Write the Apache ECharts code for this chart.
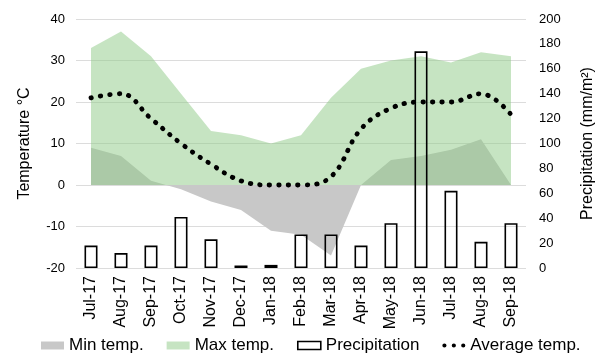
<!DOCTYPE html>
<html>
<head>
<meta charset="utf-8">
<script src="https://cdn.jsdelivr.net/npm/echarts@6/dist/echarts.min.js"></script>
<style>
html,body{margin:0;padding:0;background:#fff;}
#chart{width:604px;height:361px;}
</style>
</head>
<body>
<div id="chart"></div>
<script>
var months = ['Jul-17','Aug-17','Sep-17','Oct-17','Nov-17','Dec-17','Jan-18','Feb-18','Mar-18','Apr-18','May-18','Jun-18','Jul-18','Aug-18','Sep-18'];
var minTemp = [9, 7, 1, -1, -4, -6, -11, -12, -17, 0, 6, 7, 8.5, 11, 0];
var maxTemp = [33, 37, 31, 22, 13, 12, 10, 12, 21, 28, 30, 31, 29.5, 32, 31];
var avgTemp = [21, 22, 16, 10, 5, 1, 0, 0, 2, 13.5, 18.5, 20, 20, 22, 17];
var precipitation = [18, 12, 18, 41, 23, 2, 2.5, 27, 27, 18, 36, 174, 62, 21, 36];
var tempTicks = {min: -20, max: 40, interval: 10};
var precipTicks = {min: 0, max: 200, interval: 20};

var font = 'Liberation Sans, Arial, sans-serif';
var chart = echarts.init(document.getElementById('chart'), null, {renderer: 'canvas'});
var dotsIcon = 'path://M0,2A2,2 0 1 1 4,2A2,2 0 1 1 0,2Z M9,2A2,2 0 1 1 13,2A2,2 0 1 1 9,2Z M18,2A2,2 0 1 1 22,2A2,2 0 1 1 18,2Z';

chart.setOption({
  animation: false,
  backgroundColor: '#fff',
  textStyle: {fontFamily: font},
  grid: {left: 76, right: 76, top: 19, bottom: 93},
  legend: {
    bottom: 2,
    left: 36,
    itemWidth: 23,
    itemHeight: 8,
    itemGap: 23,
    textStyle: {fontSize: 17, color: '#000', fontFamily: font},
    data: [
      {name: 'Min temp.', icon: 'rect', itemStyle: {color: '#c8c8c8', borderWidth: 0}},
      {name: 'Max temp.', icon: 'rect', itemStyle: {color: '#c6e4c2', borderWidth: 0}},
      {name: 'Precipitation', icon: 'rect', itemStyle: {color: 'rgba(255,255,255,0)', borderColor: '#000', borderWidth: 1.6}},
      {name: 'Average temp.', icon: dotsIcon, itemStyle: {color: '#000', borderWidth: 0}}
    ]
  },
  xAxis: {
    type: 'category',
    data: months,
    boundaryGap: true,
    axisLine: {show: false},
    axisTick: {show: false},
    axisLabel: {rotate: 90, interval: 0, fontSize: 16, color: '#000', margin: 8, fontFamily: font}
  },
  yAxis: [
    {
      type: 'value',
      min: tempTicks.min, max: tempTicks.max, interval: tempTicks.interval,
      name: 'Temperature °C',
      nameLocation: 'middle',
      nameGap: 43,
      nameTextStyle: {fontSize: 16, color: '#000', fontFamily: font},
      axisLine: {show: false},
      axisTick: {show: false},
      axisLabel: {fontSize: 13, color: '#000', margin: 11, fontFamily: font},
      splitLine: {show: true, lineStyle: {color: '#dcdcdc', width: 1}}
    },
    {
      type: 'value',
      position: 'right',
      min: precipTicks.min, max: precipTicks.max, interval: precipTicks.interval,
      name: 'Precipitation (mm/m²)',
      nameLocation: 'middle',
      nameGap: 54,
      nameTextStyle: {fontSize: 16, color: '#000', fontFamily: font},
      axisLine: {show: false},
      axisTick: {show: false},
      axisLabel: {fontSize: 13, color: '#000', margin: 13, fontFamily: font},
      splitLine: {show: false}
    }
  ],
  series: [
    {
      name: 'Min temp.',
      type: 'line',
      data: minTemp,
      yAxisIndex: 0,
      symbol: 'none',
      lineStyle: {width: 0},
      itemStyle: {color: '#c8c8c8'},
      areaStyle: {color: '#c8c8c8', opacity: 1},
      z: 1
    },
    {
      name: 'Max temp.',
      type: 'line',
      data: maxTemp,
      yAxisIndex: 0,
      symbol: 'none',
      lineStyle: {width: 0},
      itemStyle: {color: '#c6e4c2'},
      areaStyle: {color: 'rgb(141,201,133)', opacity: 0.5},
      z: 2
    },
    {
      name: 'Precipitation',
      type: 'bar',
      data: precipitation,
      yAxisIndex: 1,
      barWidth: 13,
      itemStyle: {color: 'rgba(255,255,255,0)', borderColor: '#000', borderWidth: 1.6},
      z: 3
    },
    {
      name: 'Average temp.',
      type: 'line',
      data: avgTemp,
      yAxisIndex: 0,
      smooth: 0.4,
      symbol: 'none',
      itemStyle: {color: '#000'},
      lineStyle: {color: '#000', width: 4.8, type: [0.5, 9], cap: 'round'},
      z: 4
    }
  ]
});
</script>
</body>
</html>
